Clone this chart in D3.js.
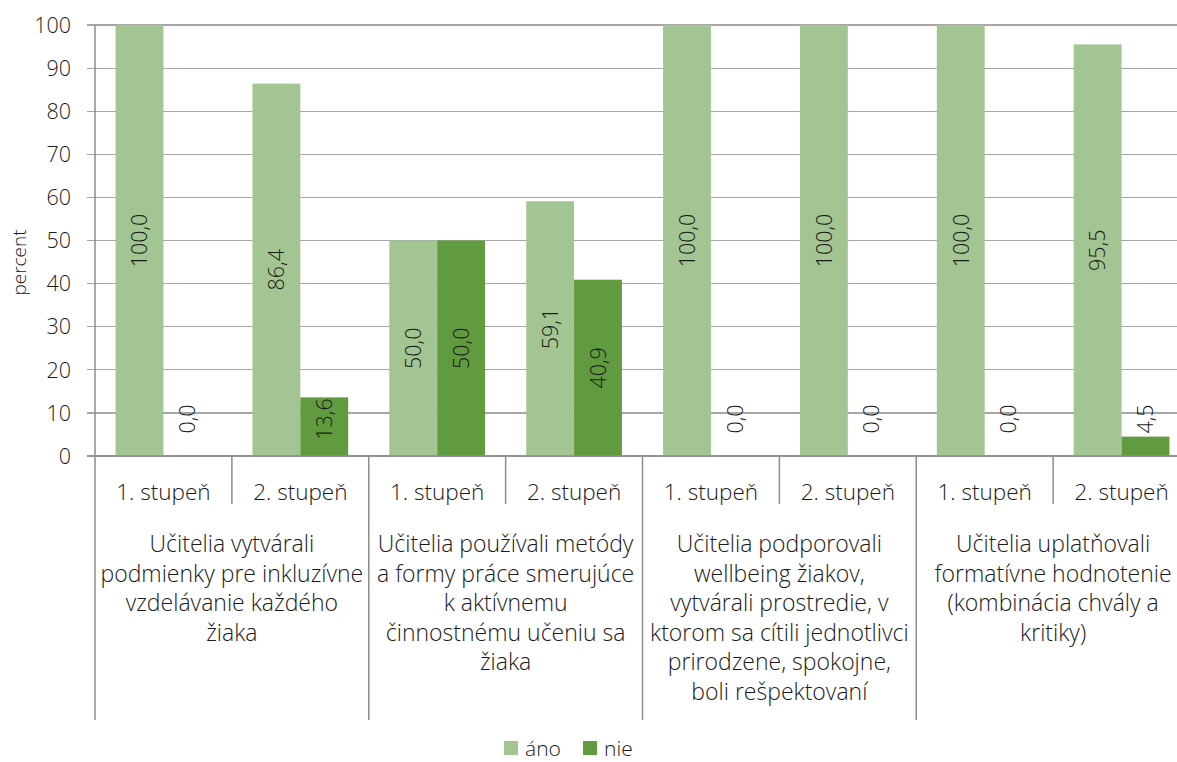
<!DOCTYPE html>
<html><head><meta charset="utf-8">
<script src="https://cdn.jsdelivr.net/npm/d3@7"></script>
<style>
body{margin:0;background:#fff;}
text{font-family:"Open Sans",sans-serif;font-weight:300;fill:#1a1a1a;}
</style></head><body>
<svg id="c" width="1177" height="762"></svg>
<script>
const groups = [
  ["Učitelia vytvárali","podmienky pre inkluzívne","vzdelávanie každého","žiaka"],
  ["Učitelia používali metódy","a formy práce smerujúce","k aktívnemu","činnostnému učeniu sa","žiaka"],
  ["Učitelia podporovali","wellbeing žiakov,","vytvárali prostredie, v","ktorom sa cítili jednotlivci","prirodzene, spokojne,","boli rešpektovaní"],
  ["Učitelia uplatňovali","formatívne hodnotenie","(kombinácia chvály a","kritiky)"]
];
const levels = ["1. stupeň","2. stupeň"];
const series = ["áno","nie"];
const ano = [100.0, 86.4, 50.0, 59.1, 100.0, 100.0, 100.0, 95.5];
const nie = [0.0, 13.6, 50.0, 40.9, 0.0, 0.0, 0.0, 4.5];
const yTicks = [0,10,20,30,40,50,60,70,80,90,100];
const colors = ["#A2C591","#619B3F"];

const svg = d3.select("#c");
const mL = 95, mR = 1190, mT = 25, mB = 456;
const cats = d3.range(groups.length * levels.length);
const x = d3.scaleBand().domain(cats).range([mL, mR]).paddingInner(0).paddingOuter(0);
const xs = d3.scaleBand().domain(series).range([0, x.bandwidth()]).paddingInner(0).paddingOuter(0.43);
const y = d3.scaleLinear().domain([0,100]).range([mB, mT]);
const grid = "#A6A6A6", axisC = "#8C8C8C";

svg.append("g").selectAll("line").data(yTicks).join("line")
  .attr("x1", mL-8).attr("x2", mR).attr("y1", d=>y(d)).attr("y2", d=>y(d))
  .attr("stroke", grid).attr("stroke-width", 1.2).attr("shape-rendering","crispEdges");
svg.append("g").selectAll("text").data(yTicks).join("text")
  .attr("x", 71).attr("y", d=>y(d)).attr("dy","0.36em").attr("text-anchor","end")
  .style("font-size","21.5px").text(d=>d);
svg.append("text").attr("transform",`translate(26,${(mT+mB)/2 + 22}) rotate(-90)`)
  .attr("text-anchor","middle").style("font-size","19px").text("percent");

const data = [];
cats.forEach(i => { data.push({i, s:"áno", v:ano[i], c:0}); data.push({i, s:"nie", v:nie[i], c:1}); });
svg.append("g").selectAll("rect").data(data).join("rect")
  .attr("x", d=>x(d.i)+xs(d.s)).attr("width", xs.bandwidth())
  .attr("y", d=>y(d.v)).attr("height", d=>mB-y(d.v)).attr("fill", d=>colors[d.c]);
svg.append("g").selectAll("text").data(data).join("text")
  .attr("transform", d=>{
    const cx = x(d.i)+xs(d.s)+xs.bandwidth()/2;
    const cy = Math.min((y(d.v)+mB)/2, mB-37);
    return `translate(${cx},${cy}) rotate(-90)`;
  })
  .attr("text-anchor","middle").attr("dy","0.36em").style("font-size","21.5px")
  .text(d=>d3.format(".1f")(d.v).replace(".",","));

svg.append("line").attr("x1",mL).attr("x2",mL).attr("y1",mT).attr("y2",720)
  .attr("stroke",axisC).attr("stroke-width",1.5);
svg.append("line").attr("x1",mL-8).attr("x2",mR).attr("y1",mB).attr("y2",mB)
  .attr("stroke",axisC).attr("stroke-width",1.5);
cats.slice(1).forEach(i=>{
  const long = i % levels.length === 0;
  svg.append("line").attr("x1",x(i)).attr("x2",x(i)).attr("y1",mB).attr("y2", long?720:504)
    .attr("stroke",axisC).attr("stroke-width",1.5);
});
svg.append("g").selectAll("text").data(cats).join("text")
  .attr("x", i=>x(i)+x.bandwidth()/2).attr("y", 500).attr("text-anchor","middle")
  .style("font-size","22.5px").text(i=>levels[i % levels.length]);
groups.forEach((lines, g)=>{
  const cx = x(g*levels.length) + x.bandwidth();
  const t = svg.append("text").attr("text-anchor","middle").style("font-size","23px");
  lines.forEach((ln,k)=> t.append("tspan").attr("x",cx).attr("y",552+k*29.5).text(ln));
});

const lg = svg.append("g");
const lx = [504, 583];
series.forEach((s,k)=>{
  lg.append("rect").attr("x",lx[k]).attr("y",741).attr("width",14).attr("height",14).attr("fill",colors[k]);
  lg.append("text").attr("x",lx[k]+21).attr("y",756).style("font-size","21px").text(s);
});
</script></body></html>
